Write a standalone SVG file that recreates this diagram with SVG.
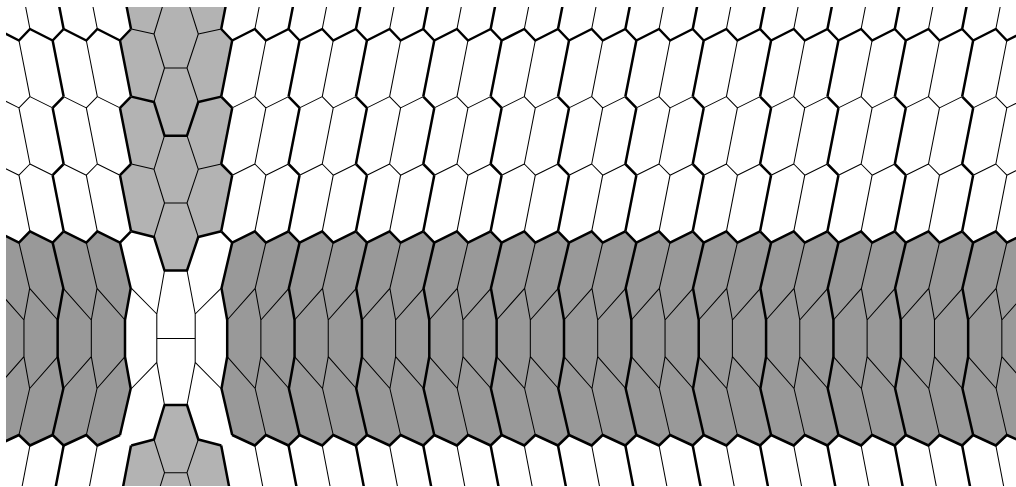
<svg xmlns="http://www.w3.org/2000/svg" xmlns:xlink="http://www.w3.org/1999/xlink" width="1016" height="487" viewBox="0 0 1016 487">
<style>
.thin{fill:none;stroke:#000;stroke-width:1.05;stroke-linejoin:round}
.thick{fill:none;stroke:#000;stroke-width:2.5;stroke-linejoin:round}
.dark{fill:#999}
.light{fill:#b3b3b3}
</style>
<defs>
<clipPath id="frame"><rect x="6" y="7" width="1010" height="479"/></clipPath>
<path id="bandFill" class="dark" d="M0 242.6L22.68 231.3 33.68 242.6 56.36 231.3 67.36 242.6 56.66 288.3 62.36 320V356.7L56.66 388.5 67.36 435 56.36 445.5 33.68 435 22.68 445.5 0 435-10.7 388.5-5 356.7V320L-10.7 288.3Z"/>
<g id="unit">
<path class="thin" d="M22.68 29L33.68-27.4M22.68 96.6L33.68 40.5M22.68 164L33.68 107.9M22.68 231.3L33.68 175.2M22.68 96.6L33.68 107.9M22.68 164L33.68 175.2M33.68 242.6L22.98 288.3 28.68 320V356.7L22.98 388.5 33.68 435M22.68 445.5L33.68 502.8M0 107.9L22.68 96.6M33.68 107.9L56.36 96.6M0 175.2L22.68 164M33.68 175.2L56.36 164M56.66 288.3L28.68 320M28.68 356.7L56.66 388.5M22.98 288.3L-5 320M-5 356.7L22.98 388.5"/>
<path class="thick" d="M-11 29L0-27.4M-11 96.6L0 40.5M-11 164L0 107.9M-11 231.3L0 175.2M-11 96.6L0 107.9M-11 164L0 175.2M0 242.6L-10.7 288.3-5 320V356.7L-10.7 388.5 0 435M-11 445.5L0 502.8M-11 29L0 40.5 22.68 29 33.68 40.5 56.36 29M-11 231.3L0 242.6 22.68 231.3 33.68 242.6 56.36 231.3M0 435L22.68 445.5 33.68 435 56.36 445.5 67.36 435"/>
</g>
</defs>
<g clip-path="url(#frame)">
<g id="fills">
<use xlink:href="#bandFill" href="#bandFill" x="232.2"/><use href="#bandFill" x="299.56"/><use href="#bandFill" x="366.92"/><use href="#bandFill" x="434.28"/><use href="#bandFill" x="501.64"/><use href="#bandFill" x="569"/><use href="#bandFill" x="636.36"/><use href="#bandFill" x="703.72"/><use href="#bandFill" x="771.08"/><use href="#bandFill" x="838.44"/><use href="#bandFill" x="905.8"/><use href="#bandFill" x="973.16"/>
<g transform="translate(352.2) scale(-1 1)"><use href="#bandFill" x="232.2"/><use href="#bandFill" x="299.56"/></g>
<path class="light" d="M120-27.4L131.3 29 120 40.5 131.3 96.6 120 107.9 131.3 164 120 175.2 131.3 231.3 154 237 164.5 270.5H187L198.3 237 221.3 231.3 232.2 175.2 221.3 164 232.2 107.9 221.3 96.6 232.2 40.5 221.3 29 232.2-27.4Z"/>
<path class="light" d="M131.3 445.5L154 439.5 164.5 405H187L198.3 439.5 221.3 445.5 232.2 502.8H120Z"/>
</g>
<g id="connectors">
<use href="#unit" x="232.2"/><use href="#unit" x="299.56"/><use href="#unit" x="366.92"/><use href="#unit" x="434.28"/><use href="#unit" x="501.64"/><use href="#unit" x="569"/><use href="#unit" x="636.36"/><use href="#unit" x="703.72"/><use href="#unit" x="771.08"/><use href="#unit" x="838.44"/><use href="#unit" x="905.8"/><use href="#unit" x="973.16"/>
<g transform="translate(352.2) scale(-1 1)"><use href="#unit" x="232.2"/><use href="#unit" x="299.56"/></g>
<path class="thin" d="M131.3 29L154 34 164.5 68 154 102M154 34L164.5 0M164.5 68H187M221.3 29L198.3 34 187 68 198.3 102M198.3 34L187.5 0M131.3 164L154 169.3 164.5 203H187L198.3 169.3 221.3 164M164.5 135.7L154 169.3M187 135.7L198.3 169.3M164.5 203L154 237M187 203L198.3 237"/>
<path class="thin" d="M154 439.5L164.5 472.7H187L198.3 439.5M164.5 472.7L160 487M187 472.7L191 487"/>
<path class="thin" d="M164.5 270.5L156.8 314V362.3L164.5 405M187 270.5L195.2 314V362.3L187 405M156.8 338.5H195.2M131.5 288.3L156.8 314M221 288.3L195.2 314M131.5 388.5L156.8 362.3M221 388.5L195.2 362.3"/>
<path class="thick" d="M131.3 96.6L154 102 164.5 135.7H187L198.3 102 221.3 96.6M131.3 231.3L154 237 164.5 270.5H187L198.3 237 221.3 231.3M131.3 445.5L154 439.5 164.5 405H187L198.3 439.5 221.3 445.5"/>
</g>
</g>
</svg>
